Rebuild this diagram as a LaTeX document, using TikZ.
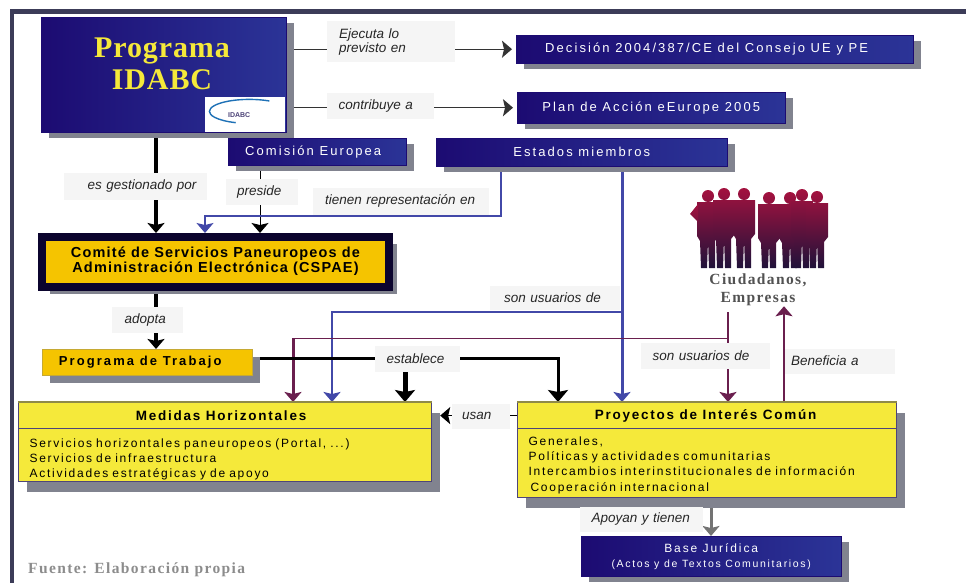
\documentclass[tikz,border=0pt]{standalone}
\usepackage{fontspec}
\setmainfont{Liberation Sans}
\newfontfamily\tituloFont[LetterSpace=3]{Liberation Serif}
\newfontfamily\pieFont[LetterSpace=9]{Liberation Serif}
\newfontfamily\azulFont[LetterSpace=16]{Liberation Sans}
\newfontfamily\anchaFont[LetterSpace=14.5]{Liberation Sans}
\newfontfamily\cabFont[LetterSpace=13]{Liberation Sans}
\newfontfamily\comiteFont[LetterSpace=8]{Liberation Sans}
\usepackage{tikz}
\usetikzlibrary{arrows.meta,shadows,backgrounds}

\definecolor{azulO}{HTML}{1C0B72}
\definecolor{azulC}{HTML}{2B3497}
\definecolor{sombra}{HTML}{81838F}
\definecolor{amarillo}{HTML}{F5E93A}
\definecolor{oro}{HTML}{F5C400}
\definecolor{granate}{HTML}{6A1F4E}
\definecolor{azulLinea}{HTML}{4248A8}
\definecolor{marco}{HTML}{3C3C58}
\definecolor{carmesi}{HTML}{A3123F}
\definecolor{oscuro}{HTML}{20123A}

\tikzset{
	sombreada/.style={drop shadow={shadow xshift=8pt,shadow yshift=-#1,fill=sombra,opacity=1}},
	sombreada/.default=6pt,
	cajaAzul/.style={sombreada,draw=azulO,left color=azulO,right color=azulC,text=white,anchor=north west,inner sep=0pt,font=\azulFont\fontsize{13}{15}\selectfont,align=center},
	cajaAmarilla/.style={sombreada=10pt,draw=azulO!50!gray,line width=1.2pt,fill=amarillo,anchor=north west,inner sep=0pt},
	cabecera/.style={font=\cabFont\bfseries\fontsize{13.5}{15}\selectfont},
	cuerpo/.style={font=\anchaFont\fontsize{12}{15.2}\selectfont,align=left,text width=#1,inner xsep=11pt},
	etiqueta/.style={fill=black!4,inner sep=0pt,font=\itshape\fontsize{13.5}{12.5}\selectfont,text=black!85,align=left},
	enlace/.style={-{Stealth[length=10pt,width=17pt,inset=2pt]}},
	enlaceG/.style={-{Stealth[length=12pt,width=20pt,inset=2pt]}},
}

\begin{document}
\begin{tikzpicture}[x=1pt,y=-1pt]
	\useasboundingbox (0,0) rectangle (966,583);

	% marco
	\fill[marco] (10,9) rectangle (966,14);
	\fill[marco] (10,9) rectangle (14,583);

	\foreach \name/\px in {ejeGestion/156,ejePreside/260,ejeRepresenta/205,ejeMiembros/622,ejeAzul/332,ejeRojo/293,ejeUsuarios/728,ejeBenef/784,ejeEstablece/405,ejeProyectos/558,ejeBase/711}
		\coordinate (\name) at (\px,0);
	\coordinate (nudoAzul) at (622,312);
	\coordinate (nudoRojo) at (728,338);
	\coordinate (nudoEstablece) at (405,358);
	\coordinate (nudoRepresenta) at (501,216);

	% cajas
	\node[cajaAzul,minimum width=245,minimum height=115] (programa) at (41,17) {};
	\node[text=amarillo,font=\tituloFont\bfseries\fontsize{30}{32}\selectfont,align=center] (titulo) at (162,64) {Programa\\IDABC};
	\node[fill=white,anchor=north west,minimum width=80,minimum height=35,inner sep=0pt,font=\bfseries\fontsize{7}{8}\selectfont,text=azulO!50!gray] (logo) at (205,97) {\hspace{-12pt}IDABC};
	\draw[azulC!70!cyan,line width=1.4pt] (logo.north east) ++(-16,4) arc[start angle=-60,end angle=-250,x radius=40,y radius=12];

	\node[cajaAzul,minimum width=397,minimum height=28] (decision) at (516,35) {Decisión 2004/387/CE del Consejo UE y PE\hspace*{16pt}\mbox{}};
	\node[cajaAzul,minimum width=268,minimum height=31] (plan) at (517,92) {Plan de Acción eEurope 2005};
	\node[cajaAzul,minimum width=178,minimum height=27] (comision) at (228,138) {Comisión Europea\hspace*{8pt}\mbox{}};
	\node[cajaAzul,minimum width=291,minimum height=28] (estados) at (436,138) {Estados miembros};

	\node[sombreada=7pt,draw=azulO!40!black,line width=8pt,fill=oro,anchor=north west,minimum width=347,minimum height=50,inner sep=0pt,align=center,font=\comiteFont\bfseries\fontsize{14.5}{14.5}\selectfont] (comite) at (38,233) {Comité de Servicios Paneuropeos de\\Administración Electrónica (CSPAE)\rule[-5pt]{0pt}{1pt}};
	\node[sombreada=8pt,draw=oro!60!gray,fill=oro,anchor=north west,minimum width=210,minimum height=26,inner sep=0pt,font=\azulFont\bfseries\fontsize{13}{15}\selectfont] (trabajo) at (42,349) {Programa de Trabajo\hspace*{14pt}\mbox{}};

	\node[cajaAmarilla,minimum width=413,minimum height=26,cabecera] (medidas) at (18,402) {\raisebox{-2pt}{Medidas Horizontales}\hspace*{8pt}\mbox{}};
	\node[cajaAmarilla,minimum width=413,minimum height=53,cuerpo=391pt] (medidasC) at (18,428) {\rule{0pt}{17pt}Servicios horizontales paneuropeos (Portal, ...)\\Servicios de infraestructura\\Actividades estratégicas y de apoyo};
	\node[cajaAmarilla,minimum width=379,minimum height=26,cabecera] (proyectos) at (517,402) {\raisebox{-2pt}{Proyectos de Interés Común}\hspace*{3pt}\mbox{}};
	\node[cajaAmarilla,minimum width=379,minimum height=69,cuerpo=357pt] (proyectosC) at (517,428) {\rule{0pt}{13pt}Generales,\\Políticas y actividades comunitarias\\Intercambios interinstitucionales de información\\\hspace*{2pt}Cooperación internacional};
	\foreach \caja in {medidas,proyectos}
		\draw[olive!50!gray,line width=2pt] (\caja.north west) -- (\caja.north east);

	\node[cajaAzul,minimum width=260,minimum height=40,font=\azulFont\fontsize{12}{15}\selectfont] (base) at (581,536) {Base Jurídica\\{\fontsize{10.5}{15}\selectfont (Actos y de Textos Comunitarios)}};

	% personas
	\foreach \px/\py in {708/196,724/194,744/194,769/198,790/198,802/195,817/197}
		\shade[top color=carmesi,bottom color=oscuro] (\px,\py) circle[radius=6]
			(\px-11,\py+6) -- (\px+11,\py+6) -- (\px+11,\py+40) -- (\px+7,\py+45) -- (\px+7,268) -- (\px+1,268) -- (\px,\py+45) -- (\px-1,268) -- (\px-7,268) -- (\px-8,\py+45) -- (\px-11,\py+40) -- cycle;
	\shade[top color=carmesi,bottom color=carmesi!70!oscuro] (698,204) -- (690,214) -- (698,222) -- cycle;
	\node[font=\pieFont\bfseries\fontsize{15.5}{18}\selectfont,text=black!68,align=center,inner sep=0pt] (ciudadanos) at (758,290) {Ciudadanos,\\Empresas};

	\node[font=\pieFont\bfseries\fontsize{15.5}{17}\selectfont,text=black!45,anchor=west,inner sep=0pt] (fuente) at (28,570) {Fuente: Elaboración propia};

	% conectores
	\begin{scope}[on background layer]
		\draw[enlace,black!80,line width=1.3pt,shorten >=4pt] (programa.east |- decision.west) -- (decision.west);
		\draw[enlace,black!80,line width=1.6pt,shorten >=4pt] (programa.east |- plan.west) -- (plan.west);
		\draw[enlace,line width=3.5pt] (programa.south -| ejeGestion) -- (comite.north -| ejeGestion);
		\draw[enlace,line width=1pt] (comision.south -| ejePreside) -- (comite.north -| ejePreside);
		\draw[enlace,azulLinea,line width=1.2pt] (estados.south -| nudoRepresenta) -- (nudoRepresenta) -| (comite.north -| ejeRepresenta);
		\draw[enlace,azulLinea,line width=3pt] (estados.south -| ejeMiembros) -- (proyectos.north -| ejeMiembros);
		\draw[enlace,azulLinea,line width=2.5pt] (nudoAzul) -| (medidas.north -| ejeAzul);
		\draw[granate,line width=1pt] (nudoRojo) -- (nudoRojo -| ejeRojo);
		\draw[enlace,granate,line width=3pt] (nudoRojo -| ejeRojo) -- (medidas.north -| ejeRojo);
		\draw[enlace,granate,line width=2pt,shorten <=6pt] (ciudadanos.south -| ejeUsuarios) -- (proyectos.north -| ejeUsuarios);
		\draw[enlace,granate,line width=2pt] (proyectos.north -| ejeBenef) -- (ciudadanos.south -| ejeBenef);
		\draw[enlace,line width=3.5pt] (comite.south -| ejeGestion) -- (trabajo.north -| ejeGestion);
		\draw[enlaceG,line width=3pt] (trabajo.east |- nudoEstablece) -| (proyectos.north -| ejeProyectos);
		\draw[enlaceG,line width=5pt] (nudoEstablece) -- (medidas.north -| ejeEstablece);
		\draw[enlace,line width=1.3pt,shorten >=8pt] (proyectos.west) -- (medidas.east);
		\draw[enlace,black!55,line width=3pt] (proyectosC.south -| ejeBase) -- (base.north -| ejeBase);
	\end{scope}

	% etiquetas
	\foreach \name/\px/\py/\ancho/\alto/\sangria/\txt in {
		lejecuta/391/42/128/41/12/{Ejecuta lo\\\hspace*{12pt}previsto en},
		lcontribuye/380/106/107/26/12/{contribuye a},
		lgestion/135/186/143/27/24/{es gestionado por},
		lpreside/262/192/72/26/11/{preside},
		lrepresenta/401/201/176/27/12/{tienen representación en},
		lusuarios/555/298/130/24/14/{son usuarios de},
		ladopta/147/320/71/26/13/{adopta},
		lestablece/417/359/85/26/12/{establece},
		lusan/481/416/58/25/10/{usan},
		lusuariosB/705/356/129/26/12/{son usuarios de},
		lbenef/840/361/110/25/6/{Beneficia a},
		lapoyan/641/519/123/25/12/{Apoyan y tienen}}
		\node[etiqueta,minimum width=\ancho,minimum height=\alto,text width=\ancho pt] (\name) at (\px,\py) {\hspace*{\sangria pt}\txt};
\end{tikzpicture}
\end{document}
